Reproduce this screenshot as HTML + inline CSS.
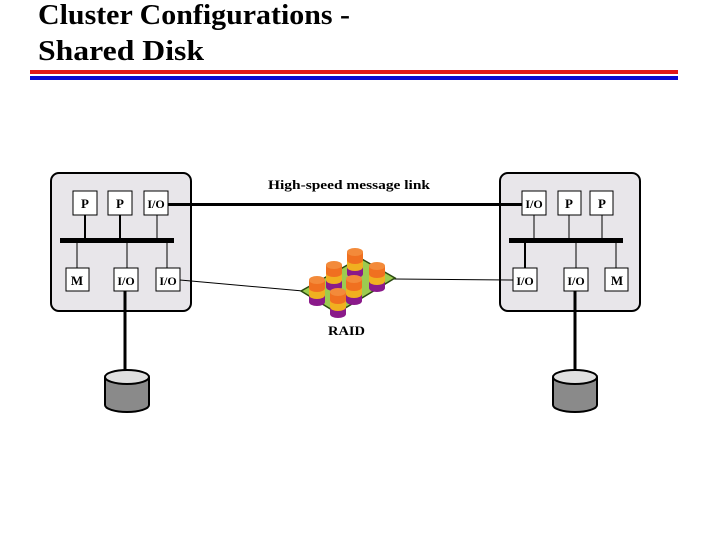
<!DOCTYPE html>
<html><head><meta charset="utf-8"><style>
html,body{margin:0;padding:0;background:#fff;width:720px;height:540px;overflow:hidden}
svg{display:block}
</style></head><body>
<svg width="720" height="540" viewBox="0 0 720 540" xmlns="http://www.w3.org/2000/svg" font-family="Liberation Serif, serif">
<text x="38" y="24" font-size="28" font-weight="bold" textLength="312" lengthAdjust="spacingAndGlyphs">Cluster Configurations -</text>
<text x="38" y="60" font-size="28" font-weight="bold" textLength="166" lengthAdjust="spacingAndGlyphs">Shared Disk</text>
<rect x="30" y="70" width="648" height="4" fill="#e01818"/>
<rect x="30" y="76" width="648" height="4" fill="#0a0ad0"/>

<rect x="51" y="173" width="140" height="138" rx="8" fill="#e8e6ea" stroke="#000" stroke-width="2"/>
<g stroke="#000">
<line x1="85" y1="215" x2="85" y2="240" stroke-width="2"/>
<line x1="120" y1="215" x2="120" y2="240" stroke-width="2"/>
<line x1="157" y1="215" x2="157" y2="240" stroke-width="1"/>
<line x1="77" y1="240" x2="77" y2="268" stroke-width="1"/>
<line x1="127" y1="240" x2="127" y2="268" stroke-width="1"/>
<line x1="167" y1="240" x2="167" y2="268" stroke-width="1"/>
</g>
<rect x="60" y="238" width="114" height="5" fill="#000"/>
<g fill="#fff" stroke="#000" stroke-width="1">
<rect x="73" y="191" width="24" height="24"/><rect x="108" y="191" width="24" height="24"/><rect x="144" y="191" width="24" height="24"/>
<rect x="66" y="268" width="23" height="23"/><rect x="114" y="268" width="24" height="23"/><rect x="156" y="268" width="24" height="23"/>
</g>
<rect x="500" y="173" width="140" height="138" rx="8" fill="#e8e6ea" stroke="#000" stroke-width="2"/>
<g stroke="#000">
<line x1="534" y1="215" x2="534" y2="240" stroke-width="1"/>
<line x1="569" y1="215" x2="569" y2="240" stroke-width="1"/>
<line x1="602" y1="215" x2="602" y2="240" stroke-width="1"/>
<line x1="525" y1="240" x2="525" y2="268" stroke-width="2"/>
<line x1="576" y1="240" x2="576" y2="268" stroke-width="1"/>
<line x1="616" y1="240" x2="616" y2="268" stroke-width="1"/>
</g>
<rect x="509" y="238" width="114" height="5" fill="#000"/>
<g fill="#fff" stroke="#000" stroke-width="1">
<rect x="522" y="191" width="24" height="24"/><rect x="558" y="191" width="23" height="24"/><rect x="590" y="191" width="23" height="24"/>
<rect x="513" y="268" width="24" height="23"/><rect x="564" y="268" width="24" height="23"/><rect x="605" y="268" width="23" height="23"/>
</g>
<g font-size="13" font-weight="bold" text-anchor="middle">
<text x="85" y="208">P</text><text x="120" y="208">P</text><text x="156" y="208" font-size="12">I/O</text>
<text x="77" y="285">M</text><text x="126" y="285" font-size="12">I/O</text><text x="168" y="285" font-size="12">I/O</text>
<text x="534" y="208" font-size="12">I/O</text><text x="569" y="208">P</text><text x="602" y="208">P</text>
<text x="525" y="285" font-size="12">I/O</text><text x="576" y="285" font-size="12">I/O</text><text x="617" y="285">M</text>
</g>
<rect x="168" y="203" width="354" height="3" fill="#000"/>
<text x="268" y="189" font-size="13" font-weight="bold" textLength="162" lengthAdjust="spacingAndGlyphs">High-speed message link</text>
<line x1="180" y1="280" x2="303" y2="291" stroke="#000" stroke-width="1"/>
<line x1="513" y1="280" x2="394" y2="279" stroke="#000" stroke-width="1"/>
<line x1="125" y1="291" x2="125" y2="371" stroke="#000" stroke-width="3"/>
<line x1="575" y1="291" x2="575" y2="371" stroke="#000" stroke-width="3"/>
<g stroke="#000" stroke-width="2">
<path d="M105 377 V405 A22 7 0 0 0 149 405 V377" fill="#8a8a8a"/>
<ellipse cx="127" cy="377" rx="22" ry="7" fill="#e0e0e0"/>
<path d="M553 377 V405 A22 7 0 0 0 597 405 V377" fill="#8a8a8a"/>
<ellipse cx="575" cy="377" rx="22" ry="7" fill="#e0e0e0"/>
</g>
<polygon points="301,291 337,313 395,278 360,258" fill="#9ccc50" stroke="#2a4a10" stroke-width="1.5"/>
<defs>
<g id="cy">
<rect x="-8" y="0" width="16" height="22" fill="#8a1a8a"/>
<ellipse cx="0" cy="22" rx="8" ry="4" fill="#8a1a8a"/>
<rect x="-8" y="0" width="16" height="15" fill="#f0b020"/>
<ellipse cx="0" cy="15" rx="8" ry="4" fill="#f0b020"/>
<rect x="-8" y="0" width="16" height="8" fill="#f07020"/>
<ellipse cx="0" cy="8" rx="8" ry="4" fill="#f07020"/>
<ellipse cx="0" cy="0" rx="8" ry="4" fill="#f38a3a"/>
</g>
</defs>
<use href="#cy" x="355" y="252"/>
<use href="#cy" x="334" y="265"/>
<use href="#cy" x="377" y="266"/>
<use href="#cy" x="317" y="280"/>
<use href="#cy" x="354" y="279"/>
<use href="#cy" x="338" y="292"/>
<text x="328" y="335" font-size="13" font-weight="bold" textLength="37" lengthAdjust="spacingAndGlyphs">RAID</text>
</svg>
</body></html>
